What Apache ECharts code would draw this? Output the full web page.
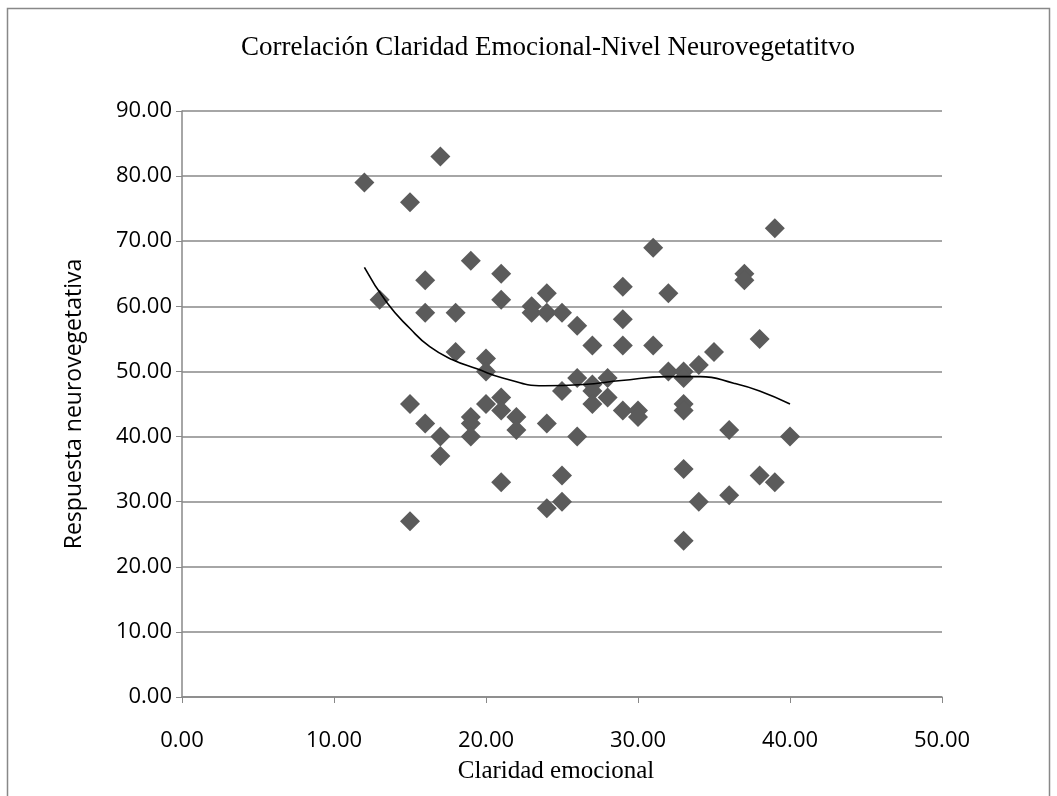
<!DOCTYPE html>
<html><head><meta charset="utf-8">
<script src="https://cdn.jsdelivr.net/npm/echarts@6/dist/echarts.min.js"></script>
<style>html,body{margin:0;padding:0;background:#fff}#c{width:1057px;height:796px}</style>
</head><body><div id="c"></div>
<script>
const claridad = [12,13,15,15,15,16,16,16,17,17,17,18,18,19,19,19,19,20,20,20,21,21,21,21,21,22,22,23,23,24,24,24,24,25,25,25,25,26,26,26,27,27,27,27,28,28,29,29,29,29,30,30,31,31,32,32,33,33,33,33,33,33,34,34,35,36,36,37,37,38,38,39,39,40];
const respuesta = [79,61,76,45,27,64,59,42,83,40,37,59,53,67,43,42,40,52,50,45,65,61,46,44,33,43,41,60,59,62,59,42,29,59,47,34,30,57,49,40,54,48,47,45,49,46,63,58,54,44,44,43,69,54,62,50,50,49,45,44,35,24,51,30,53,41,31,65,64,55,34,72,33,40];
const trendX = [12,13.5,15,16.3,17.8,19.4,21.1,23.8,26.4,28.9,31.9,34.1,36.3,38,40];
const trendY = [66,60.5,56.6,53.8,51.8,50.4,49.0,47.8,48.0,48.6,49.2,49.2,48.2,47.0,45.0];
const xTicks = [0,10,20,30,40,50];
const yTicks = [0,10,20,30,40,50,60,70,80,90];

const pts = claridad.map((x,i)=>[x,respuesta[i]]);
const trend = trendX.map((x,i)=>[x,trendY[i]]);
const chart = echarts.init(document.getElementById('c'));
const sans = '"Open Sans","Noto Sans",sans-serif';
const serif = '"Liberation Serif","Times New Roman",serif';
const tickFont = {fontFamily:sans,fontSize:22,color:'#000'};
chart.setOption({
  animation:false,
  backgroundColor:'#fff',
  graphic:[{type:'rect',shape:{x:7.5,y:8.5,width:1042,height:800},style:{fill:null,stroke:'#888',lineWidth:1.5},silent:true}],
  title:{text:'Correlación Claridad Emocional-Nivel Neurovegetatitvo',left:236,top:29,
    textStyle:{fontFamily:serif,fontSize:27,fontWeight:'normal',color:'#000'}},
  grid:{left:182,right:115,top:111,bottom:99},
  xAxis:{type:'value',min:xTicks[0],max:xTicks[xTicks.length-1],interval:10,
    name:'Claridad emocional',nameLocation:'middle',nameGap:62,
    nameTextStyle:{fontFamily:serif,fontSize:25,color:'#000',padding:[0,12,0,0]},
    axisLine:{show:true,lineStyle:{color:'#888',width:1.5}},
    axisTick:{show:true,length:6,lineStyle:{color:'#888'}},
    splitLine:{show:false},
    axisLabel:Object.assign({margin:33,formatter:v=>v.toFixed(2)},tickFont)},
  yAxis:{type:'value',min:yTicks[0],max:yTicks[yTicks.length-1],interval:10,
    name:'Respuesta neurovegetativa',nameLocation:'middle',nameGap:96,
    nameTextStyle:{fontFamily:sans,fontSize:23,color:'#000'},
    axisLine:{show:true,lineStyle:{color:'#888',width:1.5}},
    axisTick:{show:true,length:6,lineStyle:{color:'#888'}},
    splitLine:{show:true,lineStyle:{color:'#888',width:1.5}},
    axisLabel:Object.assign({margin:10,formatter:v=>v.toFixed(2)},tickFont)},
  series:[
    {type:'scatter',data:pts,symbol:'diamond',symbolSize:20,itemStyle:{color:'#5b5b5b',opacity:1},z:3},
    {type:'line',data:trend,smooth:true,symbol:'none',lineStyle:{color:'#000',width:1.6},z:4}
  ]
});
</script></body></html>
